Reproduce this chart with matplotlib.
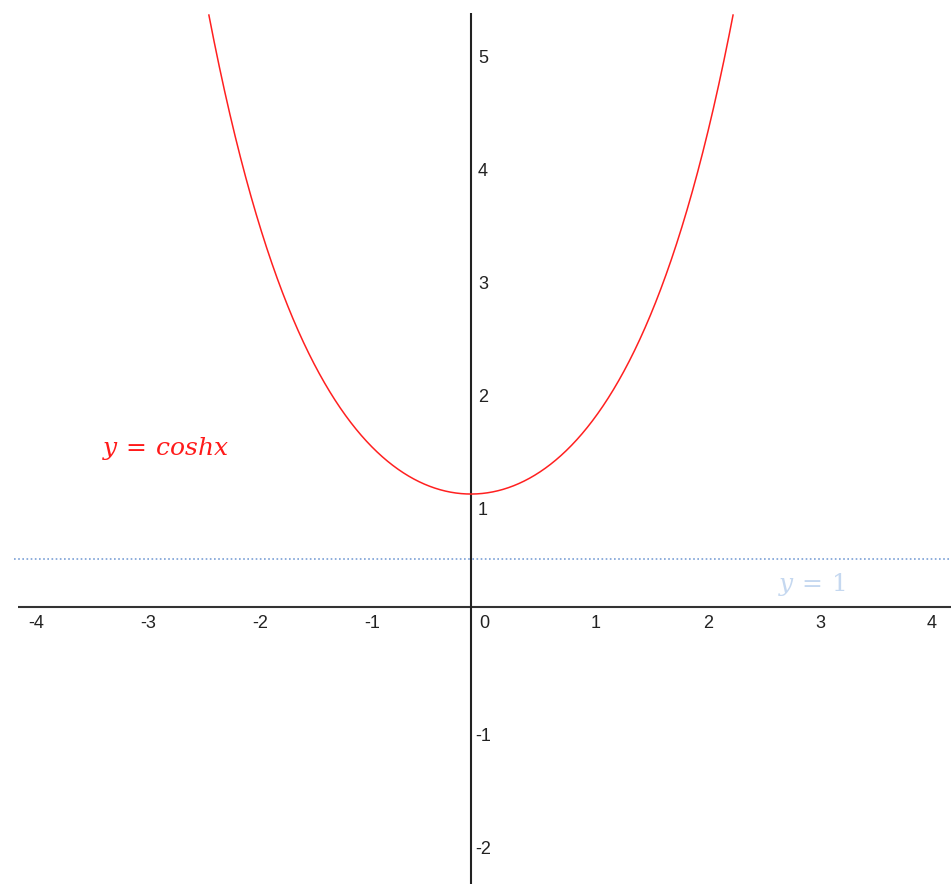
import matplotlib
matplotlib.use('Agg')
import matplotlib.pyplot as plt
import numpy as np

# visible window and tick positions
x_min, x_max = -4.205, 4.286
y_min, y_max = -2.451, 5.372
x_ticks = [-4, -3, -2, -1, 0, 1, 2, 3, 4]
y_ticks = [-2, -1, 1, 2, 3, 4, 5]

# curve domain and the dotted guide line
curve_span = [-2.34, 2.34]
guide_y = 0.425

plt.rcParams['mathtext.fontset'] = 'dejavuserif'

fig = plt.figure(figsize=(9.51, 8.84), dpi=100)
ax = fig.add_axes([0, 0, 1, 1])
ax.set_xlim(x_min, x_max)
ax.set_ylim(y_min, y_max)
ax.axis('off')

# axes through the origin
ax.plot([-4.04, x_max], [0, 0], color='#333333', lw=1.5, solid_capstyle='butt')
ax.plot([0, 0], [y_min, 5.26], color='#222222', lw=1.5, solid_capstyle='butt')

# tick labels, offset to the right and below each position
for t in x_ticks:
    ax.annotate(str(t), (t, 0), xytext=(13, -16), textcoords='offset pixels',
                ha='center', va='center', fontsize=13, family='Liberation Sans',
                color='#222222')
for t in y_ticks:
    ax.annotate(str(t), (0, t), xytext=(12, -16), textcoords='offset pixels',
                ha='center', va='center', fontsize=13, family='Liberation Sans',
                color='#222222')

# y = cosh x
xs = np.linspace(curve_span[0], curve_span[1], 400)
ax.plot(xs, np.cosh(xs), color='#ff2020', lw=1.1)

# dotted guide line
ax.plot([-4.08, x_max], [guide_y, guide_y], color='#7a9fd6', lw=1.2,
        linestyle=(0, (1, 1.5)))

ax.text(-2.73, 1.4, r'$y\,=\,cosh x$', color='#ff1a1a', fontsize=18,
        ha='center', va='center')
ax.text(3.04, 0.2, r'$y\,=\,1$', color='#c5d8f0', fontsize=18,
        ha='center', va='center')

fig.savefig('out.png', dpi=100)
plt.close(fig)
